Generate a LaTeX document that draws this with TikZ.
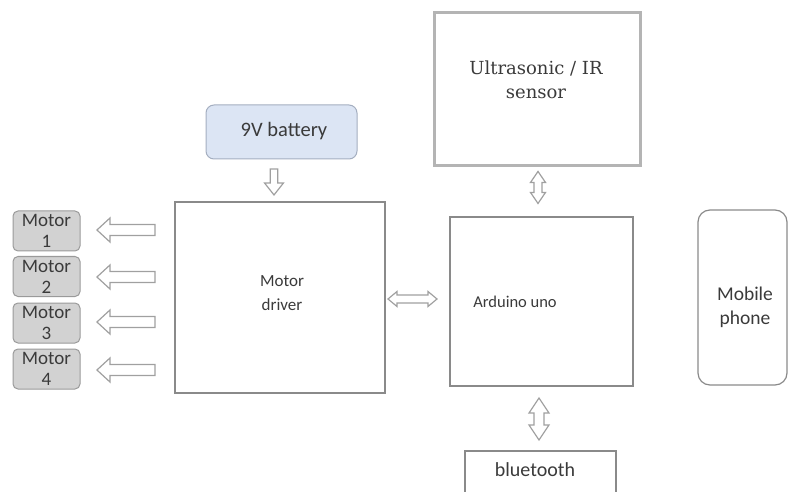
\documentclass[tikz,border=0pt]{standalone}
\usepackage{fontspec}
\setmainfont{Carlito}
\newfontfamily\serifcam{DejaVu Serif}
\usetikzlibrary{calc}
\definecolor{txt}{HTML}{3A3A3A}
\definecolor{boxgray}{HTML}{8A8A8A}
\definecolor{senscol}{HTML}{B4B4B4}
\definecolor{mfill}{HTML}{D2D2D2}
\definecolor{mgray}{HTML}{9A9A9A}
\definecolor{batfill}{HTML}{DCE5F4}
\definecolor{batdraw}{HTML}{A4AEC0}
\definecolor{agray}{HTML}{A0A0A0}
\tikzset{
  box/.style={draw=boxgray, line width=1.2pt, inner sep=0pt},
  lbl/.style={text=txt, align=center, inner sep=0pt},
  motorbox/.style={draw=mgray, fill=mfill, rounded corners=5pt, line width=1pt,
    minimum width=67pt, minimum height=40pt, align=center, text=txt, inner sep=0pt,
    font=\fontsize{19}{21}\selectfont},
  blk/.style={draw=agray, line width=1.2pt, fill=white, line join=miter},
  % single block arrow pointing +x: length, shaft half width, head half width, head length
  pics/sarrow/.style n args={4}{code={
    \draw[blk] (-#1/2,-#2) -- (#1/2-#4,-#2) -- (#1/2-#4,-#3) -- (#1/2,0)
      -- (#1/2-#4,#3) -- (#1/2-#4,#2) -- (-#1/2,#2) -- cycle;
  }},
  % double block arrow along x
  pics/darrow/.style n args={4}{code={
    \draw[blk] (-#1/2,0) -- (-#1/2+#4,-#3) -- (-#1/2+#4,-#2) -- (#1/2-#4,-#2)
      -- (#1/2-#4,-#3) -- (#1/2,0) -- (#1/2-#4,#3) -- (#1/2-#4,#2)
      -- (-#1/2+#4,#2) -- (-#1/2+#4,#3) -- cycle;
  }},
}
\begin{document}
\begin{tikzpicture}[x=1pt,y=-1pt]
\useasboundingbox (0,0) rectangle (788,492);
\clip (0,0) rectangle (788,492);
% boxes
\node[box, draw=senscol, line width=3pt, minimum width=206pt, minimum height=153pt] (sens) at (537,89.5) {};
\node[lbl, font=\serifcam\fontsize{18}{24}\selectfont] (senst) at (536,80) {Ultrasonic / IR\\sensor};
\node[box, draw=batdraw, fill=batfill, rounded corners=8pt, line width=1pt, minimum width=151pt, minimum height=54pt] (bat) at (281.5,132) {};
\node[lbl, font=\fontsize{20.5}{24}\selectfont] (batt) at (284,131) {9V battery};
\node[box, minimum width=210pt, minimum height=191pt] (drv) at (280,297.5) {};
\node[lbl, font=\fontsize{17}{24}\selectfont] (drvt) at (282,293) {Motor\\driver};
\node[box, minimum width=183pt, minimum height=169pt] (ard) at (541.5,301.5) {};
\node[lbl, font=\fontsize{16.5}{20}\selectfont] (ardt) at (515,302) {Arduino uno};
\node[box, minimum width=151pt, minimum height=60pt] (bt) at (540.5,481) {};
\node[lbl, font=\fontsize{20}{24}\selectfont] (btt) at (535,470) {bluetooth};
\node[box, rounded corners=12pt, minimum width=89pt, minimum height=175pt] (mob) at (742.5,297.5) {};
\node[lbl, font=\fontsize{19.5}{24}\selectfont] (mobt) at (745,307) {Mobile\\phone};
% motors
\node[motorbox] (m1) at (46.5,231) {Motor\\1};
\node[motorbox] (m2) at (46.5,276.5) {Motor\\2};
\node[motorbox] (m3) at (46.5,323) {Motor\\3};
\node[motorbox] (m4) at (46.5,369) {Motor\\4};
% block arrows to motors
\foreach \m/\dy in {m1/-1,m2/0.5,m3/-1,m4/1}{
  \pic[rotate=180] (a\m) at ($($(\m.east)!0.5!(\m.east -| drv.west)$)+(-1.5,\dy)$) {sarrow={58}{5.5}{12}{13}};
}
% battery arrow
\pic[rotate=-90] (abat) at ($(bat.south)!0.5!(bat.south |- drv.north)+(-7.5,1.5)$) {sarrow={26}{3.75}{9.5}{12}};
% double arrows
\pic[rotate=90] (asens) at ($(sens.south)!0.5!(sens.south |- ard.north)+(1,-4.5)$) {darrow={32}{4}{7.5}{11}};
\pic (adrv) at ($(drv.east)!0.5!(drv.east -| ard.west)+(-5,1.5)$) {darrow={49}{4}{7.5}{9}};
\pic[rotate=90] (abt) at ($(ard.south)!0.5!(ard.south |- bt.north)+(-2.5,0.5)$) {darrow={42}{5}{10}{15}};
\end{tikzpicture}
\end{document}
